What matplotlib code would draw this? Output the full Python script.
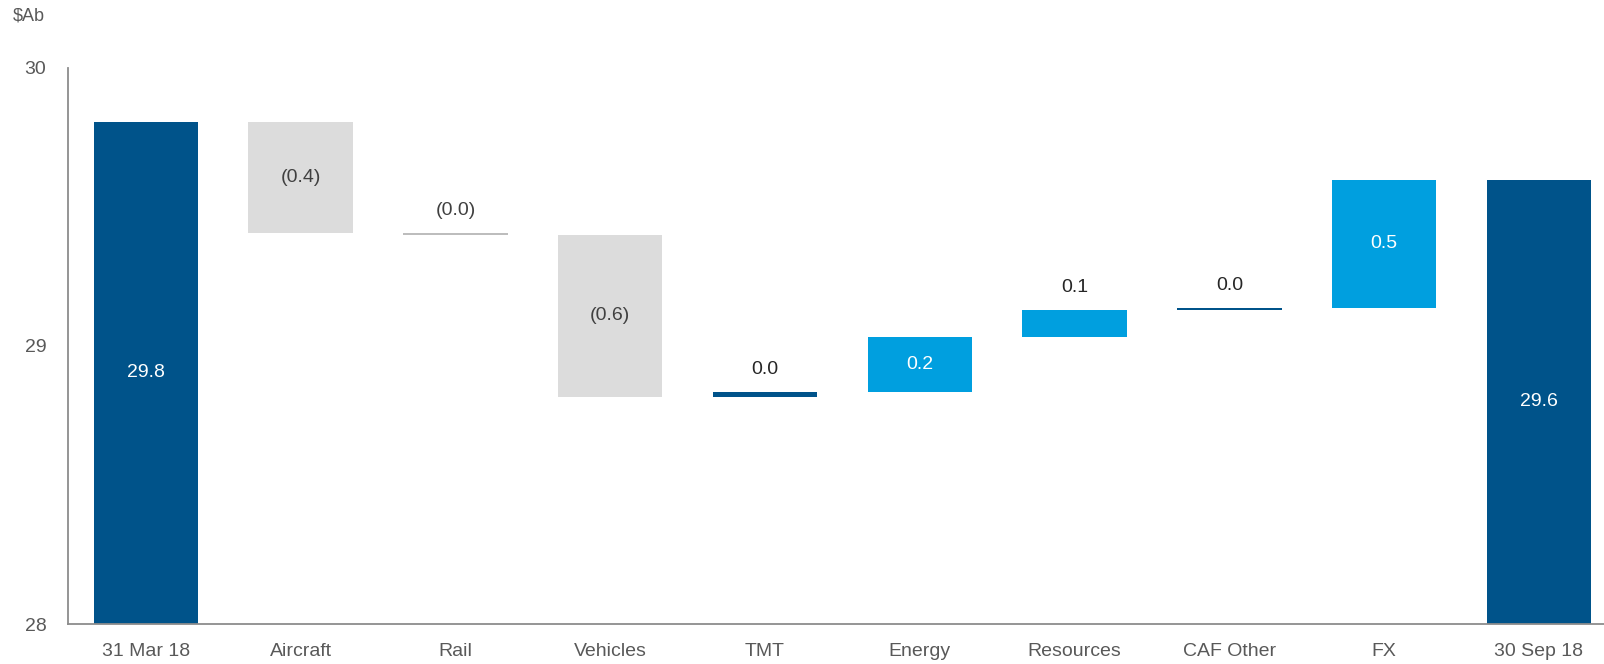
import numpy as np
import matplotlib.pyplot as plt

# Movimiento del portafolio ($Ab) entre 31 Mar 18 y 30 Sep 18
categorias = ['31 Mar 18', 'Aircraft', 'Rail', 'Vehicles', 'TMT',
              'Energy', 'Resources', 'CAF Other', 'FX', '30 Sep 18']
inicio = 29.805
variaciones = [-0.40, -0.005, -0.584, 0.018, 0.198, 0.098, 0.007, 0.46]
final = inicio + sum(variaciones)

azul_oscuro = '#00538A'
azul_claro = '#009FDF'
gris = '#DCDCDC'
colores = [azul_oscuro, gris, '#BDBDBD', gris, azul_oscuro,
           azul_claro, azul_claro, azul_oscuro, azul_claro, azul_oscuro]

# Bases y alturas de la cascada
bases = [0.0]
alturas = [inicio]
acumulado = inicio
for v in variaciones:
    bases.append(acumulado)
    alturas.append(v)
    acumulado += v
bases.append(0.0)
alturas.append(final)

plt.rcParams['font.family'] = ['Liberation Sans Narrow', 'Liberation Sans', 'DejaVu Sans']

fig = plt.figure(figsize=(16.04, 6.64), dpi=100)
ax = fig.add_axes([0.0427, 0.0602, 0.9573, 0.838])

x = np.arange(len(categorias))
ax.bar(x, alturas, bottom=bases, width=0.675, color=colores, linewidth=0)

ax.set_xlim(-0.5, 9.42)
ax.set_ylim(28, 30)
ax.set_yticks([28, 29, 30])
ax.set_xticks(x)
ax.set_xticklabels(categorias)
ax.tick_params(length=0, labelsize=14, colors='#595959')
ax.tick_params(axis='x', pad=14)
ax.tick_params(axis='y', pad=16)

for lado in ['top', 'right']:
    ax.spines[lado].set_visible(False)
for lado in ['left', 'bottom']:
    ax.spines[lado].set_color('#8C8C8C')
    ax.spines[lado].set_linewidth(1.3)

# Etiquetas de valores
for i, (b, h) in enumerate(zip(bases, alturas)):
    if i == 0 or i == len(categorias) - 1:
        texto = f'{h:.1f}'
        ax.text(i, (28 + h) / 2, texto, ha='center', va='center',
                color='white', fontsize=14)
        continue
    texto = f'({abs(h):.1f})' if h < 0 else f'{h:.1f}'
    arriba = max(b, b + h)
    if abs(h) < 0.15:
        ax.text(i, arriba + 0.05, texto, ha='center', va='bottom',
                color='#262626' if h > 0 else '#404040', fontsize=14)
    else:
        color_txt = '#404040' if h < 0 else 'white'
        ax.text(i, b + h / 2, texto, ha='center', va='center',
                color=color_txt, fontsize=14)

fig.text(0.008, 0.976, '$Ab', ha='left', va='center', fontsize=13, color='#595959')

plt.savefig('out.png', dpi=100)
